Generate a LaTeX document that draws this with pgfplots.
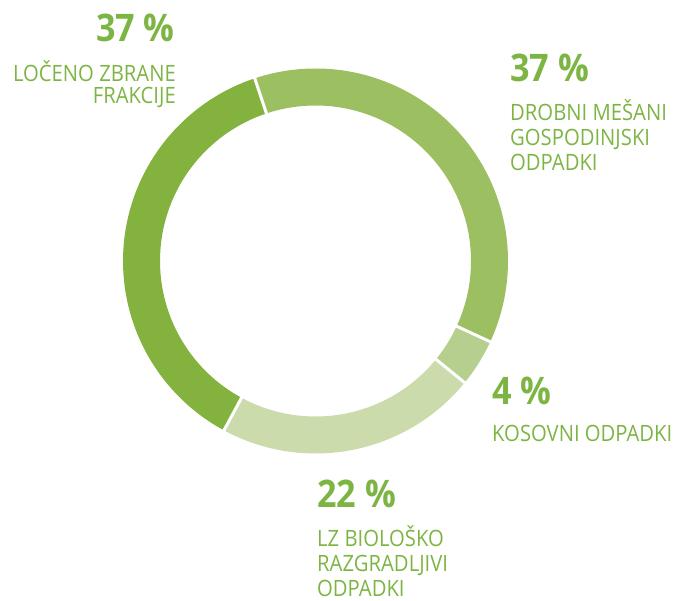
\documentclass[border=0pt]{standalone}
\usepackage{pgfplots}
\pgfplotsset{compat=1.18}
\usepackage{fontspec}
\setmainfont{Open Sans}[FakeStretch=0.9]
\definecolor{cLoc}{HTML}{83B33E}
\definecolor{cDro}{HTML}{9CBF62}
\definecolor{cKos}{HTML}{B6CF8E}
\definecolor{cLZ}{HTML}{CBDBAB}
\definecolor{txt}{HTML}{7DB544}
\newcommand{\pct}[1]{{\fontsize{38}{40}\selectfont\bfseries #1}}
\newcommand{\lab}[1]{{\fontsize{22.5}{24}\selectfont #1}}
\begin{document}
\begin{tikzpicture}
\begin{axis}[
  x=1pt, y=1pt,
  xmin=-315.5, xmax=360.5, ymin=-340, ymax=261,
  hide axis, clip=false,
]
\addplot[draw=none] coordinates {(-315.5,-340) (360.5,261)};
% start angle 108.4, clockwise; spans = value*3.6
% Drobni mesani gospodinjski odpadki 37
\addplot[cDro, line width=37pt, domain=-24.8:108.4, samples=120] ({174*cos(x)},{174*sin(x)});
% Kosovni odpadki 4
\addplot[cKos, line width=37pt, domain=-39.2:-24.8, samples=20] ({174*cos(x)},{174*sin(x)});
% LZ biolosko razgradljivi odpadki 22
\addplot[cLZ, line width=37pt, domain=-118.4:-39.2, samples=80] ({174*cos(x)},{174*sin(x)});
% Loceno zbrane frakcije 37
\addplot[cLoc, line width=37pt, domain=-251.6:-118.4, samples=120] ({174*cos(x)},{174*sin(x)});
% separators
\addplot[white, line width=3pt, data cs=polar] coordinates {(108.4,150) (108.4,198)};
\addplot[white, line width=3pt, data cs=polar] coordinates {(-24.8,150) (-24.8,198)};
\addplot[white, line width=3pt, data cs=polar] coordinates {(-39.2,150) (-39.2,198)};
\addplot[white, line width=3pt, data cs=polar] coordinates {(-118.4,150) (-118.4,198)};
% labels
\node[anchor=base east, text=txt, inner sep=0pt] at (axis cs:-140.5,219) {\pct{37 \%}};
\node[anchor=base east, text=txt, inner sep=0pt] at (axis cs:-139.5,179) {\lab{LOČENO ZBRANE}};
\node[anchor=base east, text=txt, inner sep=0pt] at (axis cs:-139.5,157) {\lab{FRAKCIJE}};
\node[anchor=base west, text=txt, inner sep=0pt] at (axis cs:194.5,179) {\pct{37 \%}};
\node[anchor=base west, text=txt, inner sep=0pt] at (axis cs:194.5,140) {\lab{DROBNI MEŠANI}};
\node[anchor=base west, text=txt, inner sep=0pt] at (axis cs:194.5,115) {\lab{GOSPODINJSKI}};
\node[anchor=base west, text=txt, inner sep=0pt] at (axis cs:194.5,90) {\lab{ODPADKI}};
\node[anchor=base west, text=txt, inner sep=0pt] at (axis cs:176.5,-144) {\pct{4 \%}};
\node[anchor=base west, text=txt, inner sep=0pt] at (axis cs:176.5,-181) {\lab{KOSOVNI ODPADKI}};
\node[anchor=base west, text=txt, inner sep=0pt] at (axis cs:1.5,-247) {\pct{22 \%}};
\node[anchor=base west, text=txt, inner sep=0pt] at (axis cs:1.5,-286) {\lab{LZ BIOLOŠKO}};
\node[anchor=base west, text=txt, inner sep=0pt] at (axis cs:1.5,-311) {\lab{RAZGRADLJIVI}};
\node[anchor=base west, text=txt, inner sep=0pt] at (axis cs:1.5,-336) {\lab{ODPADKI}};
\end{axis}
\end{tikzpicture}
\end{document}
